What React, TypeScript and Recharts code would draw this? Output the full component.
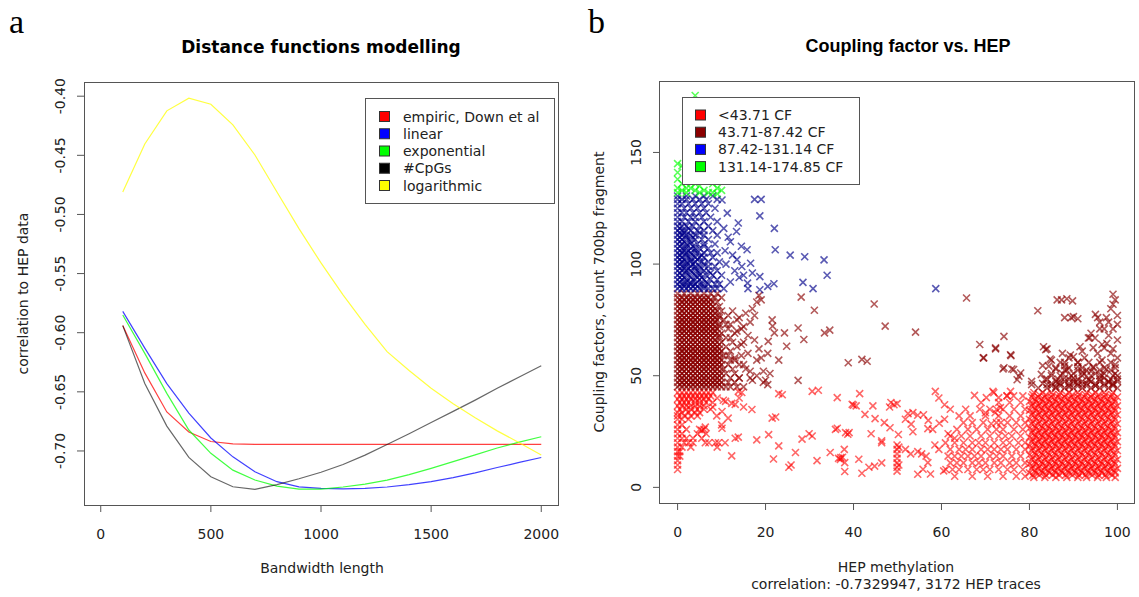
import React from 'react';
import { LineChart, Line, XAxis, YAxis, ScatterChart, Scatter } from 'recharts';

// ---------- panel a: distance functions ----------
const bandwidth = [100, 200, 300, 400, 500, 600, 700, 800, 900, 1000, 1100, 1200, 1300, 1400, 1500, 1600, 1700, 1800, 1900, 2000];
const empiric = [-0.594, -0.634, -0.667, -0.684, -0.692, -0.694, -0.6945, -0.6945, -0.6945, -0.6945, -0.6945, -0.6945, -0.6945, -0.6945, -0.6945, -0.6945, -0.6945, -0.6945, -0.6945, -0.6945];
const linear = [-0.582, -0.613, -0.643, -0.668, -0.689, -0.705, -0.7176, -0.726, -0.7303, -0.7316, -0.732, -0.7316, -0.7305, -0.7285, -0.726, -0.7225, -0.7185, -0.714, -0.7097, -0.7055];
const exponential = [-0.585, -0.6175, -0.6513, -0.6823, -0.702, -0.7162, -0.7246, -0.7297, -0.7322, -0.7322, -0.7305, -0.728, -0.7246, -0.72, -0.7147, -0.709, -0.7033, -0.6975, -0.6925, -0.688];
const cpgs = [-0.594, -0.643, -0.679, -0.7055, -0.7218, -0.7303, -0.7325, -0.7285, -0.7235, -0.718, -0.7115, -0.7035, -0.6945, -0.6855, -0.676, -0.6665, -0.657, -0.647, -0.6375, -0.628];
const logarithmic = [-0.481, -0.4404, -0.4124, -0.4017, -0.4068, -0.4243, -0.4497, -0.481, -0.512, -0.541, -0.568, -0.593, -0.616, -0.632, -0.647, -0.66, -0.672, -0.683, -0.693, -0.7035];

const bwTicks = [0, 500, 1000, 1500, 2000];
const corrTicks = [-0.7, -0.65, -0.6, -0.55, -0.5, -0.45, -0.4];

const lineSeries = [
  { key: 'empiric', name: 'empiric, Down et al', color: '#ff0000' },
  { key: 'linear', name: 'linear', color: '#0000ff' },
  { key: 'exponential', name: 'exponential', color: '#00ff00' },
  { key: 'cpgs', name: '#CpGs', color: '#000000' },
  { key: 'logarithmic', name: 'logarithmic', color: '#ffff00' },
];

const lineData = bandwidth.map((bw, i) => ({
  bw,
  empiric: empiric[i],
  linear: linear[i],
  exponential: exponential[i],
  cpgs: cpgs[i],
  logarithmic: logarithmic[i],
}));

// ---------- panel b: coupling factor vs HEP ----------
const hepTicks = [0, 20, 40, 60, 80, 100];
const cfTicks = [0, 50, 100, 150];

const greenPts: [number, number][] = [
  [4, 175.5], [0, 145], [1, 144], [0, 141], [0, 138], [1, 136], [2, 134], [3, 137], [4, 133], [5, 135], [6, 133], [7, 132],
  [8, 136], [9, 134], [10, 133], [2, 132], [1, 133], [3, 134], [5, 132], [0, 134], [6, 138], [9, 131.5], [4, 136], [8, 132], [0, 132],
];

const blueRows: [number, number[]][] = [
  [89, [0, 1, 2, 3, 4, 5, 6, 7, 8, 9, 10.5]],
  [90, [0.5, 1.5, 2.5, 3.5, 4.5, 6]],
  [91, [0, 1.5, 3, 4, 5.5, 7, 8.5, 9.5]],
  [92, [0.5, 2, 3, 4.5, 6.5]],
  [93, [0, 1, 2, 3.5, 5, 6, 7.5, 9]],
  [94, [0.5, 1.5, 3, 4.5, 5.5]],
  [95, [0, 1, 2.5, 4, 5, 6.5, 8, 10]],
  [96, [0.5, 2, 3.5, 5, 7.5]],
  [97, [0, 1, 2, 3, 4.5, 6, 7, 9]],
  [98, [0.5, 1.5, 2.5, 4, 5.5]],
  [99, [0, 1.5, 3, 4, 5, 7, 8.5]],
  [100, [0.5, 2, 3.5, 6]],
  [101, [0, 1, 2, 3, 4, 5.5, 7, 9.5]],
  [102, [0.5, 1.5, 3, 4.5]],
  [103, [0, 1, 2.5, 4, 5, 6, 8]],
  [104, [0.5, 2, 3.5, 5.5]],
  [105, [0, 1, 2, 3, 4.5, 6, 7.5, 9]],
  [106, [0.5, 1.5, 2.5, 4]],
  [107, [0, 1.5, 3, 4, 5, 7]],
  [108, [0.5, 2, 3.5, 6]],
  [109, [0, 1, 2, 3, 4.5, 6, 8.5]],
  [110, [0.5, 1.5, 3]],
  [111, [0, 1, 2.5, 4, 5.5, 7]],
  [112, [0.5, 2, 3.5]],
  [113, [0, 1, 2, 3, 4, 6, 9]],
  [114, [0.5, 1.5, 5]],
  [115, [0, 1.5, 3, 4.5, 6, 8]],
  [116, [0.5, 2.5]],
  [117, [0, 1, 2, 3.5, 5, 7]],
  [119, [0, 1, 2.5, 4, 6, 9]],
  [121, [0, 1.5, 3, 4, 5.5, 7.5]],
  [123, [0, 1, 2, 3.5, 5, 6.5]],
  [125, [0, 1.5, 3, 4.5, 6, 8.5]],
  [127, [0, 1, 2.5, 4, 5.5, 7]],
  [129, [0, 1, 2, 3.5, 5, 6.5, 9]],
  [130.5, [0, 2, 4, 6, 8]],
];

const blueSparse: [number, number][] = [
  [17.5, 129], [19, 129], [18.7, 121.6], [22, 116], [22.2, 106.4], [25.6, 104], [28.9, 103.3], [33.3, 101.9], [34, 95],
  [28.5, 91.8], [30.8, 89], [58.7, 89], [21.9, 91.2], [15.8, 106.4], [13.8, 118.4], [13.4, 114.6], [11.3, 122.8], [10.1, 128.7],
  [16.6, 100.4], [14.6, 98.9], [18.7, 88.5], [18.7, 94.4], [17, 96], [15.9, 91.5], [12, 110], [12.5, 104], [13, 97], [14, 94],
  [11, 100], [12, 92], [20.5, 90], [16, 89], [14.5, 108], [10.5, 116], [11.5, 112], [10.8, 106], [13.5, 102], [15, 95],
];

const darkredRows: [number, number[]][] = [
  [45, [0, 1, 2, 3, 4, 5, 6, 7, 8, 9, 10, 11, 12, 13.5, 15]],
  [46, [0.5, 1.5, 2.5, 3.5, 4.5, 5.5, 6.5, 7.5, 8.5, 9.5]],
  [47, [0, 1, 2, 3, 4, 5, 6, 7, 8, 9, 10, 11.5, 13]],
  [48, [0.5, 1.5, 2.5, 3.5, 4.5, 5.5, 6.5, 7.5, 8.5, 9.5]],
  [49, [0, 1, 2, 3, 4, 5, 6, 7, 8, 9, 10, 12, 14, 16.5]],
  [50, [0.5, 1.5, 2.5, 3.5, 4.5, 5.5, 6.5, 7.5, 8.5, 9.5]],
  [51, [0, 1, 2, 3, 4, 5, 6, 7, 8, 9, 10, 11, 13]],
  [52, [0.5, 1.5, 2.5, 3.5, 4.5, 5.5, 6.5, 7.5, 8.5, 9.5]],
  [53, [0, 1, 2, 3, 4, 5, 6, 7, 8, 9, 10.5, 12.5, 15.5]],
  [54, [0.5, 1.5, 2.5, 3.5, 4.5, 5.5, 6.5, 7.5, 8.5, 9.5]],
  [55, [0, 1, 2, 3, 4, 5, 6, 7, 8, 9, 10, 11.5, 14]],
  [56, [0.5, 1.5, 2.5, 3.5, 4.5, 5.5, 6.5, 7.5, 8.5, 9.5]],
  [57, [0, 1, 2, 3, 4, 5, 6, 7, 8, 9, 10, 12, 13]],
  [58, [0.5, 1.5, 2.5, 3.5, 4.5, 5.5, 6.5, 7.5, 8.5, 9.5]],
  [59, [0, 1, 2, 3, 4, 5, 6, 7, 8, 9, 10.5, 11.5, 14.5]],
  [60, [0.5, 1.5, 2.5, 3.5, 4.5, 5.5, 6.5, 7.5, 8.5, 9.5]],
  [61, [0, 1, 2, 3, 4, 5, 6, 7, 8, 9, 10, 12]],
  [62, [0.5, 1.5, 2.5, 3.5, 4.5, 5.5, 6.5, 7.5, 8.5, 9.5]],
  [63, [0, 1, 2, 3, 4, 5, 6, 7, 8, 9, 11, 13.5]],
  [64, [0.5, 1.5, 2.5, 3.5, 4.5, 5.5, 6.5, 7.5, 8.5, 9.5]],
  [65, [0, 1, 2, 3, 4, 5, 6, 7, 8, 9, 10, 12.5, 15]],
  [66, [0.5, 1.5, 2.5, 3.5, 4.5, 5.5, 6.5, 7.5, 8.5]],
  [67, [0, 1, 2, 3, 4, 5, 6, 7, 8, 9.5, 11]],
  [68, [0.5, 1.5, 2.5, 3.5, 4.5, 5.5, 6.5, 7.5, 8.5, 9.5]],
  [69, [0, 1, 2, 3, 4, 5, 6, 7, 8, 9, 10, 13]],
  [70, [0.5, 1.5, 2.5, 3.5, 4.5, 5.5, 6.5, 7.5, 8.5]],
  [71, [0, 1, 2, 3, 4, 5, 6, 7, 8, 9, 11.5, 14.5]],
  [72, [0.5, 1.5, 2.5, 3.5, 4.5, 5.5, 6.5, 7.5, 8.5, 9.5]],
  [73, [0, 1, 2, 3, 4, 5, 6, 7, 8, 9.5, 12]],
  [74, [0.5, 1.5, 2.5, 3.5, 4.5, 5.5, 6.5, 7.5, 8.5]],
  [75, [0, 1, 2, 3, 4, 5, 6, 7, 8, 9, 10.5, 13.5]],
  [76, [0.5, 1.5, 2.5, 3.5, 4.5, 5.5, 6.5, 7.5, 8.5, 9.5]],
  [77, [0, 1, 2, 3, 4, 5, 6, 7, 8, 9.5, 11.5]],
  [78, [0.5, 1.5, 2.5, 3.5, 4.5, 5.5, 6.5, 7.5, 8.5]],
  [79, [0, 1, 2, 3, 4, 5, 6, 7, 8, 9, 10]],
  [80, [0.5, 1.5, 2.5, 3.5, 4.5, 5.5, 6.5, 7.5, 8.5]],
  [81, [0, 1, 2, 3, 4, 5, 6, 7, 8, 9.5]],
  [82, [0.5, 1.5, 2.5, 3.5, 4.5, 5.5, 6.5, 7.5]],
  [83, [0, 1, 2, 3, 4, 5, 6, 7, 8, 9]],
  [84, [0.5, 1.5, 2.5, 3.5, 4.5, 5.5, 6.5, 7.5]],
  [85, [0, 1, 2, 3, 4, 5, 6, 7, 8.5, 10]],
  [86.8, [0, 1.5, 3, 4.5, 6, 7.5, 9]],
  [44.5, [82, 84, 86, 88, 90, 92, 94, 96, 98, 100]],
  [45.5, [85, 87, 89, 91, 93, 95, 97, 99]],
  [46.5, [83, 85, 87, 89, 91, 93, 95, 97, 99]],
  [47.5, [86, 88, 90, 92, 94, 96, 98, 100]],
  [48.5, [84, 86.5, 89, 91, 93.5, 96, 98.5, 100]],
  [50, [87, 89.5, 92, 94, 96.5, 99]],
  [51, [85, 87.5, 90, 92.5, 95, 97, 99.5]],
  [52.5, [88, 91, 93, 96, 98.5]],
  [53.5, [86, 89, 92, 94.5, 97, 99.5]],
  [56, [88, 91, 93.5, 96, 98.5]],
];

const darkredSparse: [number, number][] = [
  [14, 76], [15.5, 78], [16.5, 74], [17, 80], [18, 83], [18.5, 86], [19, 84], [17.5, 77], [15, 72], [13.5, 70], [16, 68],
  [17.5, 66], [14.5, 64], [16, 60], [18, 57], [13, 58], [15, 55], [16.5, 52], [18, 50], [19.5, 47], [20, 48], [17, 48], [14, 49],
  [21, 51], [12, 67], [11, 73], [12.5, 79], [19.5, 52], [20.5, 46], [18.5, 62], [19, 58], [21.5, 75], [20.5, 60], [23, 57],
  [28.1, 85.2], [31.1, 79.3], [44.7, 82.1], [65.7, 84.8], [47.2, 72.2], [54.1, 69.5], [34.6, 70.4], [33.4, 69.2], [27.4, 71.4],
  [28.7, 66.2], [24.8, 63.2], [24.3, 69.2], [21.6, 72.2], [20.6, 65.4], [22, 69.2], [38.8, 55.8], [41.9, 57.3], [43.1, 56.5],
  [27.4, 47.9], [68.7, 64], [69.5, 58], [72.3, 62], [74.2, 67.6], [81.9, 79.1], [75.8, 59], [74, 53], [76, 53], [78, 51.2],
  [77.2, 48.2], [72.3, 62.5], [69.6, 58], [75.7, 59.4], [74.2, 53.6], [76.4, 52.8], [77.6, 49.8], [80.5, 47.5], [80.5, 46],
  [87.3, 84], [88.5, 84.5], [89.8, 83.5], [86.3, 84], [88, 76], [89.5, 76], [91, 75.5], [90, 76.5], [95, 77.5], [95.5, 76],
  [99, 86.5], [99, 82], [99.5, 84], [98.5, 80], [99, 71], [97, 71], [97.6, 64.5], [97, 62.5], [83.2, 63], [84, 62], [83, 54.5],
  [84.7, 57.5], [93.7, 67], [94.5, 62.6], [92, 61], [89.3, 59.3], [90, 58.5], [94.5, 54], [96.5, 57], [93.4, 66.9], [94.9, 66.9],
  [83.7, 61.7], [84.4, 54.3], [82.7, 50.6], [83.5, 48.3], [89, 58], [96, 74], [97.5, 76], [98, 68], [100, 73], [100, 66],
  [98.5, 60], [95.5, 60], [92.5, 58], [91, 56], [87, 56], [86, 53], [88.5, 52.5], [85, 50], [86.5, 47], [90, 49], [92, 51.5],
  [93.5, 48], [96, 50], [97.5, 53], [99.5, 55], [100, 50], [98, 47], [95, 45.5], [92, 46], [89, 45], [86, 45], [84, 46],
  [88, 49], [90.5, 47], [94, 52], [97, 49], [99, 46], [100, 58], [99, 62], [96.5, 64], [100, 77], [98, 74], [96, 71], [94, 69],
  [91, 54], [88, 54.5], [85, 57], [87.5, 60], [91.5, 63],
];

const redRows: [number, number[]][] = [
  // left cluster, HEP near 0
  [42.5, [0, 1, 2, 3, 4, 5, 6, 7, 8]],
  [41, [0.5, 1.5, 2.5, 3.5, 4.5, 5.5, 6.5, 7.5]],
  [39.5, [0, 1, 2, 3, 4, 5, 6, 7]],
  [38, [0.5, 1.5, 2.5, 4, 5, 6.5, 8]],
  [36.5, [0, 1, 2, 3, 4, 5, 6]],
  [35, [0.5, 2, 3, 4.5, 6, 7.5]],
  [33.5, [0, 1, 2.5, 4, 5]],
  [32, [0, 1.5, 3, 4.5]],
  [30.5, [0, 1, 2.5]],
  [28, [0, 1]],
  [26, [0, 2, 5, 6]],
  [24, [0, 1, 4.5, 6.5]],
  [22, [0, 1, 2, 3.5, 5.5]],
  [20, [0, 1.5, 2.5, 3.5, 6.3, 7.1, 8.6, 9.3]],
  [18, [0, 1, 3, 9]],
  [16, [0, 0.5]],
  [14, [0, 0.5]],
  [12, [0]],
  [10, [0]],
  [8, [0]],
  // medium band 60-80
  [5, [63, 67, 70.5, 74, 77, 79]],
  [8, [61, 62.5, 64, 66, 68, 69.5, 71, 73, 75, 76.5, 78.5]],
  [11, [62, 63.5, 65, 67, 68.5, 70, 72, 73.5, 75.5, 77, 79]],
  [14, [61.5, 63, 64.5, 66, 67.5, 69, 71, 72.5, 74, 76, 78]],
  [17, [62, 64, 65.5, 67, 69, 70.5, 72, 73.5, 75, 77, 79]],
  [20, [63, 65, 67, 68.5, 70, 72, 74, 75.5, 77.5, 79]],
  [23, [62, 64.5, 66.5, 69, 71, 73, 74.5, 76, 78]],
  [26, [63.5, 66, 68, 70.5, 72.5, 74, 76.5, 78.5]],
  [29, [65, 67, 69.5, 73.5, 75, 77, 79]],
  [32, [64, 66.5, 70, 73, 75.5, 78]],
  [35, [65.5, 71, 74, 76.5, 79]],
  [38, [69, 73, 75.5, 78]],
  [41, [74.9, 76.4, 78.5]],
  // dense block 80-100
  [4.5, [81, 83.5, 86, 88.5, 91, 93, 95.5, 97.5, 99.5]],
  [5.5, [80.75, 82.25, 83.75, 85.25, 86.75, 88.25, 89.75, 91.25, 92.75, 94.25, 95.75, 97.25, 98.75]],
  [6.5, [80, 81.5, 83, 84.5, 86, 87.5, 89, 90.5, 92, 93.5, 95, 96.5, 98, 99.5]],
  [7.5, [81.25, 82.75, 84.25, 85.75, 87.25, 88.75, 90.25, 91.75, 93.25, 94.75, 96.25, 97.75, 99.25]],
  [8.5, [80.5, 82, 83.5, 85, 86.5, 88, 89.5, 91, 92.5, 94, 95.5, 97, 98.5, 100]],
  [9.5, [80.75, 82.25, 83.75, 85.25, 86.75, 88.25, 89.75, 91.25, 92.75, 94.25, 95.75, 97.25, 98.75]],
  [10.5, [80, 81.5, 83, 84.5, 86, 87.5, 89, 90.5, 92, 93.5, 95, 96.5, 98, 99.5]],
  [11.5, [81.25, 82.75, 84.25, 85.75, 87.25, 88.75, 90.25, 91.75, 93.25, 94.75, 96.25, 97.75, 99.25]],
  [12.5, [80.5, 82, 83.5, 85, 86.5, 88, 89.5, 91, 92.5, 94, 95.5, 97, 98.5, 100]],
  [13.5, [80.75, 82.25, 83.75, 85.25, 86.75, 88.25, 89.75, 91.25, 92.75, 94.25, 95.75, 97.25, 98.75]],
  [14.5, [80, 81.5, 83, 84.5, 86, 87.5, 89, 90.5, 92, 93.5, 95, 96.5, 98, 99.5]],
  [15.5, [81.25, 82.75, 84.25, 85.75, 87.25, 88.75, 90.25, 91.75, 93.25, 94.75, 96.25, 97.75, 99.25]],
  [16.5, [80.5, 82, 83.5, 85, 86.5, 88, 89.5, 91, 92.5, 94, 95.5, 97, 98.5, 100]],
  [17.5, [80.75, 82.25, 83.75, 85.25, 86.75, 88.25, 89.75, 91.25, 92.75, 94.25, 95.75, 97.25, 98.75]],
  [18.5, [80, 81.5, 83, 84.5, 86, 87.5, 89, 90.5, 92, 93.5, 95, 96.5, 98, 99.5]],
  [19.5, [81.25, 82.75, 84.25, 85.75, 87.25, 88.75, 90.25, 91.75, 93.25, 94.75, 96.25, 97.75, 99.25]],
  [20.5, [80.5, 82, 83.5, 85, 86.5, 88, 89.5, 91, 92.5, 94, 95.5, 97, 98.5, 100]],
  [21.5, [80.75, 82.25, 83.75, 85.25, 86.75, 88.25, 89.75, 91.25, 92.75, 94.25, 95.75, 97.25, 98.75]],
  [22.5, [80, 81.5, 83, 84.5, 86, 87.5, 89, 90.5, 92, 93.5, 95, 96.5, 98, 99.5]],
  [23.5, [81.25, 82.75, 84.25, 85.75, 87.25, 88.75, 90.25, 91.75, 93.25, 94.75, 96.25, 97.75, 99.25]],
  [24.5, [80.5, 82, 83.5, 85, 86.5, 88, 89.5, 91, 92.5, 94, 95.5, 97, 98.5, 100]],
  [25.5, [80.75, 82.25, 83.75, 85.25, 86.75, 88.25, 89.75, 91.25, 92.75, 94.25, 95.75, 97.25, 98.75]],
  [26.5, [80, 81.5, 83, 84.5, 86, 87.5, 89, 90.5, 92, 93.5, 95, 96.5, 98, 99.5]],
  [27.5, [81.25, 82.75, 84.25, 85.75, 87.25, 88.75, 90.25, 91.75, 93.25, 94.75, 96.25, 97.75, 99.25]],
  [28.5, [80.5, 82, 83.5, 85, 86.5, 88, 89.5, 91, 92.5, 94, 95.5, 97, 98.5, 100]],
  [29.5, [80.75, 82.25, 83.75, 85.25, 86.75, 88.25, 89.75, 91.25, 92.75, 94.25, 95.75, 97.25, 98.75]],
  [30.5, [80, 81.5, 83, 84.5, 86, 87.5, 89, 90.5, 92, 93.5, 95, 96.5, 98, 99.5]],
  [31.5, [81.25, 82.75, 84.25, 85.75, 87.25, 88.75, 90.25, 91.75, 93.25, 94.75, 96.25, 97.75, 99.25]],
  [32.5, [80.5, 82, 83.5, 85, 86.5, 88, 89.5, 91, 92.5, 94, 95.5, 97, 98.5, 100]],
  [33.5, [80.75, 82.25, 83.75, 85.25, 86.75, 88.25, 89.75, 91.25, 92.75, 94.25, 95.75, 97.25, 98.75]],
  [34.5, [80, 81.5, 83, 84.5, 86, 87.5, 89, 90.5, 92, 93.5, 95, 96.5, 98, 99.5]],
  [35.5, [81.25, 82.75, 84.25, 85.75, 87.25, 88.75, 90.25, 91.75, 93.25, 94.75, 96.25, 97.75, 99.25]],
  [36.5, [80.5, 82, 83.5, 85, 86.5, 88, 89.5, 91, 92.5, 94, 95.5, 97, 98.5, 100]],
  [37.5, [80.75, 82.25, 83.75, 85.25, 86.75, 88.25, 89.75, 91.25, 92.75, 94.25, 95.75, 97.25, 98.75]],
  [38.5, [80, 81.5, 83, 84.5, 86, 87.5, 89, 90.5, 92, 93.5, 95, 96.5, 98, 99.5]],
  [39.5, [81.25, 82.75, 84.25, 85.75, 87.25, 88.75, 90.25, 91.75, 93.25, 94.75, 96.25, 97.75, 99.25]],
  [40.5, [80.5, 82, 83.5, 85, 86.5, 88, 89.5, 91, 92.5, 94, 95.5, 97, 98.5, 100]],
  [41.5, [80.75, 82.25, 83.75, 85.25, 86.75, 88.25, 89.75, 91.25, 92.75, 94.25, 95.75, 97.25, 98.75]],
  [42.5, [81, 83, 85, 87, 89, 91, 93, 95, 97, 99]],
];

const redSparse: [number, number][] = [
  [12.3, 14.1], [16.9, 34.9], [21.5, 31], [22.3, 31.5], [23, 42], [23.8, 41.5], [30.6, 43], [32, 43.5], [36.3, 40.2], [39.7, 37.2],
  [35.9, 26], [38.2, 24.5], [39, 24.5], [30.6, 23], [29.9, 24], [28.3, 21.6], [26.8, 15.6], [25.3, 9], [25.8, 10], [21.8, 12.7],
  [23, 18.6], [20.7, 23.6], [18, 21.3], [13.1, 22], [13.8, 22.5], [10.8, 20], [10.1, 26.5], [10, 28], [8.9, 32], [10.1, 34],
  [12.3, 37.6], [13.1, 37.2], [10.4, 39], [10.9, 38.5], [13.8, 43], [14.6, 42.5], [31.7, 12], [34.7, 15.6], [36.6, 13], [37, 12.5],
  [37.5, 13.5], [38, 7.1], [36.3, 26.5], [5.5, 25.5], [6.3, 27], [8, 36], [9, 40], [11.5, 31], [15, 36], [14, 40],
  [41.4, 42], [40, 36.8], [40.6, 36.5], [42.6, 32.7], [44.4, 36.5], [44.9, 30.8], [48.2, 36], [48.5, 38], [49.2, 37], [49.9, 37.5],
  [52.4, 33], [53.5, 33.5], [54.6, 32.3], [55.9, 32.5], [58.6, 43], [59.4, 40], [60.7, 37], [56.9, 26.3], [58, 26], [51.8, 30.5],
  [53.1, 28.3], [53.5, 24.9], [59.5, 28.7], [60.7, 30.5], [48.3, 26.7], [50.2, 23.7], [46.4, 20.8], [49.9, 19], [49.9, 17], [49.9, 15],
  [49.9, 13], [49.9, 11], [49.9, 9], [49.9, 7.3], [50.3, 18], [50.3, 10], [51.8, 17], [53, 15], [54.6, 16], [55.5, 15], [56.5, 14],
  [56.9, 11.1], [55.8, 8.1], [54.6, 5.9], [60.5, 7.4], [59.4, 17], [60.9, 19.9], [37.9, 17], [38.7, 23.8], [37.1, 13.3], [38, 11.1],
  [41.2, 12.6], [41.9, 6.3], [43.5, 9], [44.8, 9.5], [46.4, 11], [46.4, 20], [67.5, 41.2], [70.2, 40.2], [71.7, 43], [68.7, 35],
  [72.5, 35], [72.5, 29], [71.3, 28.5], [57, 30], [62, 35], [63, 22], [61.5, 24], [58.5, 19], [57.5, 6], [44, 24], [47, 29],
  [71.9, 42.4], [73, 40.2], [75.7, 43], [74.9, 41], [70, 33.4], [72.2, 33.4], [73.4, 35.7],
];

const cfGroups = [
  { name: '<43.71 CF', color: '#ff0000', mark: 'rgba(255,0,0,0.6)' },
  { name: '43.71-87.42 CF', color: '#8b0000', mark: 'rgba(139,0,0,0.65)' },
  { name: '87.42-131.14 CF', color: '#0000ff', mark: 'rgba(0,0,139,0.65)' },
  { name: '131.14-174.85 CF', color: '#00ff00', mark: 'rgba(0,255,0,0.65)' },
];

const expand = (rows: [number, number[]][]) => rows.flatMap(([y, xs]) => xs.map((x) => ({ x, y })));
const toObj = (pts: [number, number][]) => pts.map(([x, y]) => ({ x, y }));

const scatterSets = [
  [...expand(redRows), ...toObj(redSparse)],
  [...expand(darkredRows), ...toObj(darkredSparse)],
  [...expand(blueRows), ...toObj(blueSparse)],
  toObj(greenPts),
];

const FONT = '"DejaVu Sans", sans-serif';
const INK = '#222';
const RULE = '#555';

const BottomTick = (props: any) => {
  const { x, y, payload } = props;
  return (
    <g>
      <line x1={x} y1={y} x2={x} y2={y + 7} stroke={RULE} />
      <text x={x} y={y + 34} textAnchor="middle" fontSize={14} fontFamily={FONT} fill={INK}>
        {payload.value}
      </text>
    </g>
  );
};

const makeLeftTick = (fmt: (v: number) => string) => (props: any) => {
  const { x, y, payload } = props;
  const tx = x - 19;
  return (
    <g>
      <line x1={x - 7} y1={y} x2={x} y2={y} stroke={RULE} />
      <text x={tx} y={y} transform={`rotate(-90 ${tx} ${y})`} textAnchor="middle" fontSize={14} fontFamily={FONT} fill={INK}>
        {fmt(payload.value)}
      </text>
    </g>
  );
};

const crossShape = (color: string) => (p: any) => {
  const { cx, cy } = p;
  const r = 3.5;
  return (
    <path
      d={`M${cx - r},${cy - r}L${cx + r},${cy + r}M${cx - r},${cy + r}L${cx + r},${cy - r}`}
      stroke={color}
      strokeWidth={1.6}
      fill="none"
    />
  );
};

export default function App() {
  return (
    <div style={{ position: 'absolute', left: 0, top: 0, width: 1139, height: 597, background: '#fff', overflow: 'hidden' }}>
      <div style={{ position: 'absolute', left: 0, top: 0 }}>
        <LineChart width={600} height={597} data={lineData} margin={{ top: 82, right: 42, bottom: 62, left: 44 }}>
          <XAxis
            dataKey="bw"
            type="number"
            domain={[-76, 2076]}
            ticks={bwTicks}
            allowDataOverflow
            height={30}
            axisLine={false}
            tickLine={false}
            tickSize={0}
            tickMargin={0}
            tick={BottomTick}
            interval={0}
          />
          <YAxis
            type="number"
            domain={[-0.7457, -0.388]}
            ticks={corrTicks}
            allowDataOverflow
            width={40}
            axisLine={false}
            tickLine={false}
            tickSize={0}
            tickMargin={0}
            tick={makeLeftTick((v) => v.toFixed(2))}
            interval={0}
          />
          {lineSeries.map((s) => (
            <Line
              key={s.key}
              dataKey={s.key}
              type="linear"
              stroke={s.color}
              strokeOpacity={s.key === 'cpgs' ? 0.6 : 0.75}
              strokeWidth={1.2}
              dot={false}
              isAnimationActive={false}
            />
          ))}
        </LineChart>
      </div>

      <div style={{ position: 'absolute', left: 600, top: 0 }}>
        <ScatterChart width={539} height={597} margin={{ top: 81, right: 4, bottom: 64, left: 20 }}>
          <XAxis
            dataKey="x"
            type="number"
            domain={[-4, 104]}
            ticks={hepTicks}
            allowDataOverflow
            height={30}
            axisLine={false}
            tickLine={false}
            tickSize={0}
            tickMargin={0}
            tick={BottomTick}
            interval={0}
          />
          <YAxis
            dataKey="y"
            type="number"
            domain={[-7, 182]}
            ticks={cfTicks}
            allowDataOverflow
            width={40}
            axisLine={false}
            tickLine={false}
            tickSize={0}
            tickMargin={0}
            tick={makeLeftTick((v) => String(v))}
            interval={0}
          />
          {cfGroups.map((g, i) => (
            <Scatter key={g.name} name={g.name} data={scatterSets[i]} shape={crossShape(g.mark)} isAnimationActive={false} />
          ))}
        </ScatterChart>
      </div>

      <svg width={1139} height={597} style={{ position: 'absolute', left: 0, top: 0, pointerEvents: 'none' }}>
        {/* plot frames */}
        <rect x={84.5} y={82.5} width={474} height={423} fill="none" stroke={RULE} />
        <rect x={659.5} y={81.5} width={475} height={422} fill="none" stroke={RULE} />

        {/* panel letters */}
        <text x={9} y={33} fontSize={34} fontFamily='"Liberation Serif", serif' fill="#000">a</text>
        <text x={588} y={33} fontSize={34} fontFamily='"Liberation Serif", serif' fill="#000">b</text>

        {/* titles */}
        <text x={321} y={53} textAnchor="middle" fontSize={17} fontWeight="bold" fontFamily={FONT} fill="#000">
          Distance functions modelling
        </text>
        <text x={908} y={52} textAnchor="middle" fontSize={18} fontWeight="bold" fontFamily='"Liberation Sans", Arial, sans-serif' fill="#000">
          Coupling factor vs. HEP
        </text>

        {/* axis titles */}
        <text x={322} y={573} textAnchor="middle" fontSize={14} fontFamily={FONT} fill={INK}>Bandwidth length</text>
        <text x={28} y={293.5} transform="rotate(-90 28 293.5)" textAnchor="middle" fontSize={14} fontFamily={FONT} fill={INK}>
          correlation to HEP data
        </text>
        <text x={896} y={572} textAnchor="middle" fontSize={14} fontFamily={FONT} fill={INK}>HEP methylation</text>
        <text x={896} y={589} textAnchor="middle" fontSize={14} fontFamily={FONT} fill={INK}>
          correlation: -0.7329947, 3172 HEP traces
        </text>
        <text x={604} y={292} transform="rotate(-90 604 292)" textAnchor="middle" fontSize={14} fontFamily={FONT} fill={INK}>
          Coupling factors, count 700bp fragment
        </text>

        {/* legend a */}
        <rect x={365.5} y={98.5} width={189} height={105} fill="#fff" stroke={RULE} />
        {lineSeries.map((s, i) => (
          <g key={s.key}>
            <rect x={379.5} y={111.5 + i * 17.25} width={10} height={10} fill={s.color} stroke="#333" />
            <text x={403} y={116.5 + i * 17.25} dominantBaseline="central" fontSize={14} fontFamily={FONT} fill={INK}>
              {s.name}
            </text>
          </g>
        ))}

        {/* legend b */}
        <rect x={682.5} y={97.5} width={177} height={87} fill="#fff" stroke={RULE} />
        {cfGroups.map((g, i) => (
          <g key={g.name}>
            <rect x={695.5} y={110 + i * 17.2} width={10} height={10} fill={g.color} stroke="#333" />
            <text x={718} y={115 + i * 17.2} dominantBaseline="central" fontSize={14} fontFamily={FONT} fill={INK}>
              {g.name}
            </text>
          </g>
        ))}
      </svg>
    </div>
  );
}
